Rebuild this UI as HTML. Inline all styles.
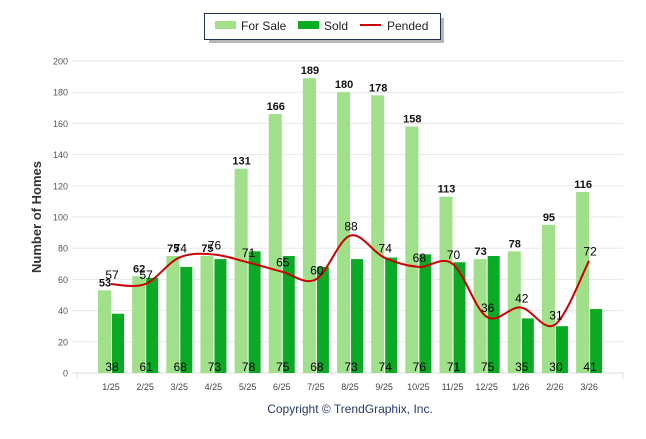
<!DOCTYPE html>
<html><head><meta charset="utf-8"><style>
body{margin:0;background:#fff;width:646px;height:434px;overflow:hidden;font-family:"Liberation Sans",sans-serif}
</style></head><body>
<svg id="c" width="646" height="434" xmlns="http://www.w3.org/2000/svg">
<g>
<rect x="207" y="16" width="235" height="25" fill="#333" opacity="0.35" transform="translate(2,2)"/>
<rect x="204.5" y="13.5" width="236" height="26" fill="#fff" stroke="#1f3256" stroke-width="1"/>
<rect x="215" y="21" width="21" height="8" fill="#a0e08a"/>
<text x="241" y="30" font-size="12" fill="#222">For Sale</text>
<rect x="298" y="21" width="21" height="8" fill="#0aaa24"/>
<text x="324" y="30" font-size="12" fill="#222">Sold</text>
<rect x="360" y="24" width="21" height="2" fill="#cc0000"/>
<text x="387" y="30" font-size="12" fill="#222">Pended</text>
</g>
<text transform="translate(41,217) rotate(-90)" text-anchor="middle" font-size="13" font-weight="bold" fill="#333">Number of Homes</text>
<text x="350" y="413" text-anchor="middle" font-size="12" fill="#2a3a6a">Copyright © TrendGraphix, Inc.</text>
<g id="grid"></g><g id="bars"></g><g id="line"></g><g id="labels"></g>
</svg>
<script>
const categories=["1/25","2/25","3/25","4/25","5/25","6/25","7/25","8/25","9/25","10/25","11/25","12/25","1/26","2/26","3/26"];
const forSale=[53,62,75,75,131,166,189,180,178,158,113,73,78,95,116];
const sold=[38,61,68,73,78,75,68,73,74,76,71,75,35,30,41];
const pended=[57,57,74,76,71,65,60,88,74,68,70,36,42,31,72];
const yTicks=[0,20,40,60,80,100,120,140,160,180,200];
const NS="http://www.w3.org/2000/svg";
const x0=77,x1=623,y0=373,yTop=61,yMax=200;
const step=34.15;
const y=v=>y0-(y0-yTop)*v/yMax;
const cx=i=>111+i*step;
function mk(t,a,p,txt){const e=document.createElementNS(NS,t);for(const k in a)e.setAttribute(k,a[k]);if(txt!=null)e.textContent=txt;p.appendChild(e);return e;}
const G=document.getElementById('grid'),B=document.getElementById('bars'),L=document.getElementById('line'),T=document.getElementById('labels');
yTicks.forEach(v=>{
 const l=mk('line',{x1:72,x2:x1,y1:y(v),y2:y(v),stroke:v===0?'#ddd':'#e8e8e8','stroke-width':1},G);
 
 
 const t=mk('text',{x:68,y:y(v)+3.5,'text-anchor':'end','font-size':9,fill:'#555'},G,v);
 
 
});
mk('line',{x1:x1,x2:x1,y1:y0,y2:y0+6,stroke:'#ddd'},G);
mk('line',{x1:x0,x2:x0,y1:y0,y2:y0+6,stroke:'#ddd'},G);
categories.forEach((c,i)=>{
 const a=mk('rect',{x:cx(i)-13,y:y(forSale[i]),width:13,height:y0-y(forSale[i]),fill:'#a0e08a'},B);
 
 
 const b=mk('rect',{x:cx(i)+1,y:y(sold[i]),width:12,height:y0-y(sold[i]),fill:'#0aaa24'},B);
 
 
 const t=mk('text',{x:cx(i),y:390,'text-anchor':'middle','font-size':9,fill:'#444'},T,c);
 
 
 const fl=mk('text',{x:cx(i)-6,y:y(forSale[i])-4,'text-anchor':'middle','font-size':11,'font-weight':'bold',fill:'#111'},T,forSale[i]);
 
 
 const sl=mk('text',{x:cx(i)+1,y:371,'text-anchor':'middle','font-size':12,fill:'#000'},T,sold[i]);
 
 
 const pl=mk('text',{x:cx(i)+1,y:y(pended[i])-5,'text-anchor':'middle','font-size':12,fill:'#000'},T,pended[i]);
 
 
});
const pts=pended.map((v,i)=>[cx(i),y(v)]);
let d='M'+pts[0][0]+','+pts[0][1];
for(let i=0;i<pts.length-1;i++){
 const p0=pts[Math.max(0,i-1)],p1=pts[i],p2=pts[i+1],p3=pts[Math.min(pts.length-1,i+2)];
 const k=1/6;
 d+=` C${p1[0]+(p2[0]-p0[0])*k},${p1[1]+(p2[1]-p0[1])*k} ${p2[0]-(p3[0]-p1[0])*k},${p2[1]-(p3[1]-p1[1])*k} ${p2[0]},${p2[1]}`;
}
const pl=mk('path',{d:d,fill:'none',stroke:'#cc0000','stroke-width':2},L);


</script>
</body></html>
